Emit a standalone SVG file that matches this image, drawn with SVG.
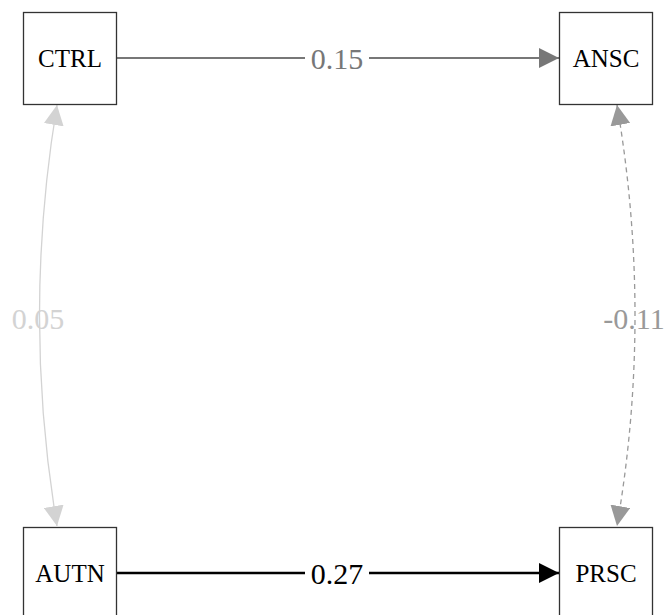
<svg xmlns="http://www.w3.org/2000/svg" width="667" height="615" viewBox="0 0 667 615">
<defs>
<marker id="aGray" markerUnits="userSpaceOnUse" markerWidth="20" markerHeight="20" refX="20" refY="10" orient="auto-start-reverse" viewBox="0 0 20 20"><path d="M0,0 L20,10 L0,20 Z" fill="#777777"/></marker>
<marker id="aBlack" markerUnits="userSpaceOnUse" markerWidth="20" markerHeight="20" refX="20" refY="10" orient="auto-start-reverse" viewBox="0 0 20 20"><path d="M0,0 L20,10 L0,20 Z" fill="#000000"/></marker>
<marker id="aLight" markerUnits="userSpaceOnUse" markerWidth="20" markerHeight="20" refX="20" refY="10" orient="auto-start-reverse" viewBox="0 0 20 20"><path d="M0,0 L20,10 L0,20 Z" fill="#d3d3d3"/></marker>
<marker id="aMid" markerUnits="userSpaceOnUse" markerWidth="20" markerHeight="20" refX="20" refY="10" orient="auto-start-reverse" viewBox="0 0 20 20"><path d="M0,0 L20,10 L0,20 Z" fill="#999999"/></marker>
</defs>
<style>
.box{fill:#ffffff;stroke:#333333;stroke-width:1.3}
.nl{font-family:"Liberation Serif","Times New Roman",serif;font-size:25px;fill:#000000;text-anchor:middle}
.el{font-family:"Liberation Serif","Times New Roman",serif;font-size:30px;text-anchor:middle}
</style>
<rect width="667" height="615" fill="#ffffff"/>
<g id="connectors" fill="none">
<path d="M116,58 L559,58" stroke="#777777" stroke-width="1.8" marker-end="url(#aGray)"/>
<rect x="305" y="40" width="64" height="36" fill="#ffffff"/>
<text class="el" x="337" y="69" fill="#777777">0.15</text>
<path d="M116,573 L559,573" stroke="#000000" stroke-width="2.5" marker-end="url(#aBlack)"/>
<rect x="305" y="555" width="64" height="36" fill="#ffffff"/>
<text class="el" x="337" y="584" fill="#000000">0.27</text>
<path d="M57,105 Q22,316 57,526" stroke="#d3d3d3" stroke-width="1.3" marker-start="url(#aLight)" marker-end="url(#aLight)"/>
<text class="el" x="38" y="329" fill="#d3d3d3">0.05</text>
<path d="M617,105 Q653,316 617,526" stroke="#999999" stroke-width="1.3" stroke-dasharray="5,4" marker-start="url(#aMid)" marker-end="url(#aMid)"/>
<text class="el" x="634" y="329" fill="#999999">-0.11</text>
</g>
<g id="CTRL"><rect class="box" x="23.5" y="12.5" width="93" height="92"/><text class="nl" x="70" y="67">CTRL</text></g>
<g id="ANSC"><rect class="box" x="559.5" y="12.5" width="93" height="92"/><text class="nl" x="606" y="67">ANSC</text></g>
<g id="AUTN"><rect class="box" x="23.5" y="527.5" width="93" height="92"/><text class="nl" x="70" y="582">AUTN</text></g>
<g id="PRSC"><rect class="box" x="559.5" y="527.5" width="93" height="92"/><text class="nl" x="606" y="582">PRSC</text></g>
</svg>
